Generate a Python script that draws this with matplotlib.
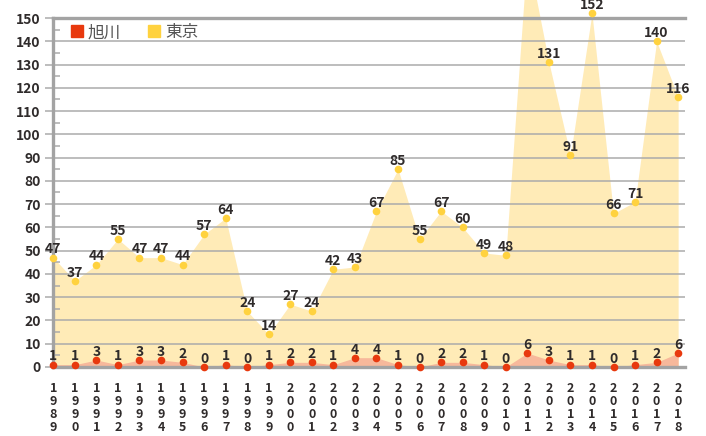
import matplotlib.pyplot as plt
from matplotlib.lines import Line2D
from matplotlib.ticker import MultipleLocator

plt.rcParams['font.family'] = ['Noto Sans CJK JP', 'DejaVu Sans']

years = list(range(1989, 2019))
asahikawa = [1, 1, 3, 1, 3, 3, 2, 0, 1, 0, 1, 2, 2, 1, 4, 4, 1, 0, 2, 2,
             1, 0, 6, 3, 1, 1, 0, 1, 2, 6]
tokyo = [47, 37, 44, 55, 47, 47, 44, 57, 64, 24, 14, 27, 24, 42, 43, 67, 85, 55, 67, 60,
         49, 48, 178, 131, 91, 152, 66, 71, 140, 116]
series_names = ['旭川', '東京']

red = '#E8390E'
yellow = '#FFD23F'
grid_c = '#ABABAB'
text_c = '#2F2B2B'

fig = plt.figure(figsize=(7.06, 4.36), dpi=100)
ax = fig.add_axes([0.0755, 0.1583, 0.8945, 0.8004])

x = list(range(len(years)))

# areas
ax.fill_between(x, 0, tokyo, color='#FFEBB7', lw=0, zorder=0.5, clip_on=False)
ax.fill_between(x, 0, asahikawa, color='#F7B89B', lw=0, zorder=0.6)

# dots
ax.plot(x, tokyo, 'o', color=yellow, ms=5.5, mec='none', zorder=3, clip_on=False)
ax.plot(x, asahikawa, 'o', color=red, ms=5.5, mec='none', zorder=4, clip_on=False)

# value labels (the one that runs off the top of the chart is not shown)
for xi, v in zip(x, tokyo):
    if v > 155:
        continue
    ax.annotate(str(v), (xi, v), xytext=(0, 3.0), textcoords='offset points',
                ha='center', va='baseline', fontsize=10, fontweight='bold',
                color=text_c, zorder=5, annotation_clip=False)
for xi, v in zip(x, asahikawa):
    ax.annotate(str(v), (xi, v), xytext=(0, 3.0), textcoords='offset points',
                ha='center', va='baseline', fontsize=10, fontweight='bold',
                color=text_c, zorder=5)

ax.set_xlim(0, 29.31)
ax.set_ylim(0, 150)

ax.yaxis.set_major_locator(MultipleLocator(10))
ax.yaxis.set_minor_locator(MultipleLocator(5))
ax.grid(axis='y', which='major', color=grid_c, lw=1.1)
ax.tick_params(axis='y', which='major', direction='out', length=6, width=1.1,
               color=grid_c, labelsize=10, labelcolor=text_c, pad=3)
ax.tick_params(axis='y', which='minor', direction='in', length=5, width=1.1,
               color=grid_c)
for lab in ax.get_yticklabels():
    lab.set_fontweight('bold')

ax.set_xticks(x)
ax.set_xticklabels(['\n'.join(str(y)) for y in years], fontsize=9,
                   fontweight='bold', color=text_c, linespacing=0.98)
ax.tick_params(axis='x', length=0, pad=11)

ax.spines['right'].set_visible(False)
for side in ['left', 'top', 'bottom']:
    ax.spines[side].set_color('#A3A3A3')
    ax.spines[side].set_linewidth(2.4)
    ax.spines[side].set_zorder(2.5)

handles = [Line2D([], [], marker='s', ls='none', color=c, ms=8.5)
           for c in [red, yellow]]
ax.legend(handles, series_names, loc='upper left', bbox_to_anchor=(0.0, 1.025),
          ncol=2, frameon=False, handletextpad=0.15, columnspacing=1.5,
          handlelength=1.0, prop={'size': 12}, labelcolor='#555555')

fig.savefig('out.png', dpi=100)
